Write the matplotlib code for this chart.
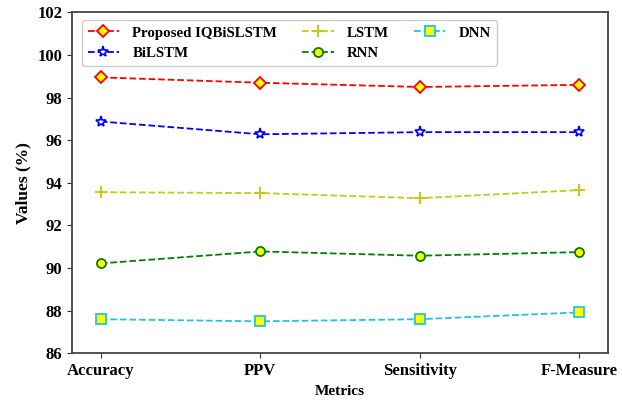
import matplotlib.pyplot as plt
import numpy as np

# Дані з графіка
metrics = ['Accuracy', 'PPV', 'Sensitivity', 'F-Measure']
proposed = [98.95, 98.70, 98.50, 98.60]
bilstm = [96.88, 96.28, 96.38, 96.38]
lstm = [93.56, 93.52, 93.28, 93.66]
rnn = [90.22, 90.78, 90.58, 90.75]
dnn = [87.60, 87.50, 87.60, 87.92]

plt.rcParams['font.family'] = ['Liberation Serif', 'DejaVu Serif']
plt.rcParams['font.weight'] = 'bold'

x = np.arange(len(metrics))

fig = plt.figure(figsize=(6.22, 4.01), dpi=100)
ax = fig.add_axes([0.1158, 0.119, 0.8617, 0.850])

ax.plot(x, proposed, 'r--', marker='D', markersize=6.5, markerfacecolor='yellow',
        markeredgecolor='red', markeredgewidth=1.3, linewidth=1.3, label='Proposed IQBiSLSTM')
ax.plot(x, bilstm, 'b--', marker='*', markersize=8, markerfacecolor='white',
        markeredgecolor='blue', markeredgewidth=1.2, linewidth=1.3, label='BiLSTM')
ax.plot(x, lstm, '--', color='#c8c820', marker='+', markersize=8,
        markeredgewidth=1.5, linewidth=1.3, label='LSTM')
ax.plot(x, rnn, '--', color='green', marker='o', markersize=6.5, markerfacecolor='yellow',
        markeredgecolor='green', markeredgewidth=1.3, linewidth=1.3, label='RNN')
ax.plot(x, dnn, '--', color='#22c4dc', marker='s', markersize=6.5, markerfacecolor='yellow',
        markeredgecolor='#22c4dc', markeredgewidth=1.3, linewidth=1.3, label='DNN')

ax.set_xlim(-0.18, 3.18)
ax.set_ylim(86, 102)
ax.set_yticks(np.arange(86, 103, 2))
ax.set_xticks(x)
ax.set_xticklabels(metrics)
ax.tick_params(labelsize=12, colors='#333333', labelcolor='black', length=3.5)

for s in ax.spines.values():
    s.set_color('#444444')
    s.set_linewidth(1.3)

ax.set_xlabel('Metrics', fontsize=11, fontweight='bold')
ax.set_ylabel('Values (%)', fontsize=12.5, fontweight='bold')

ax.legend(loc='upper left', ncol=3, fontsize=10.7, handlelength=2.1,
          handletextpad=0.9, columnspacing=1.7, bbox_to_anchor=(0.01, 0.99),
          borderaxespad=0.3, framealpha=1, edgecolor='#cccccc')

plt.savefig('out.png', dpi=100)
